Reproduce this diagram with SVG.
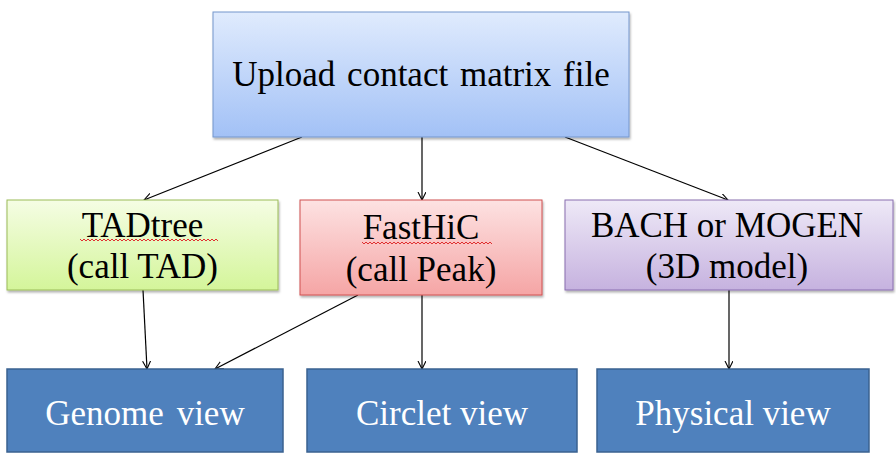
<svg xmlns="http://www.w3.org/2000/svg" width="896" height="458" viewBox="0 0 896 458">
  <defs>
    <linearGradient id="gBlue" x1="0" y1="0" x2="0" y2="1">
      <stop offset="0" stop-color="#e0ebfd"/>
      <stop offset="1" stop-color="#a2c1f6"/>
    </linearGradient>
    <linearGradient id="gGreen" x1="0" y1="0" x2="0" y2="1">
      <stop offset="0" stop-color="#f5fde4"/>
      <stop offset="1" stop-color="#d4f59a"/>
    </linearGradient>
    <linearGradient id="gRed" x1="0" y1="0" x2="0" y2="1">
      <stop offset="0" stop-color="#fde2e2"/>
      <stop offset="1" stop-color="#f5a5a5"/>
    </linearGradient>
    <linearGradient id="gPurple" x1="0" y1="0" x2="0" y2="1">
      <stop offset="0" stop-color="#eee9f7"/>
      <stop offset="1" stop-color="#c6b2df"/>
    </linearGradient>
    <filter id="sh" x="-5%" y="-5%" width="110%" height="115%">
      <feDropShadow dx="1" dy="2" stdDeviation="1.2" flood-color="#000" flood-opacity="0.3"/>
    </filter>
    <marker id="arr" markerUnits="userSpaceOnUse" markerWidth="12" markerHeight="10" refX="8" refY="4" orient="auto">
      <path d="M0,0 L8,4 L0,8" fill="none" stroke="#000" stroke-width="1.1"/>
    </marker>
  </defs>

  <g id="connectors" stroke="#000" stroke-width="1.2" fill="none" marker-end="url(#arr)">
    <line x1="302" y1="137" x2="144" y2="200"/>
    <line x1="422" y1="137" x2="422" y2="200"/>
    <line x1="565" y1="137" x2="728" y2="200"/>
    <line x1="143" y1="290" x2="147" y2="369"/>
    <line x1="358" y1="295" x2="215" y2="369"/>
    <line x1="422" y1="295" x2="422" y2="369"/>
    <line x1="729" y1="290" x2="729" y2="369"/>
  </g>

  <g id="upload">
    <rect x="213" y="12" width="416" height="125" fill="url(#gBlue)" stroke="#7496cc" stroke-width="1" filter="url(#sh)"/>
    <text x="421" y="86" font-size="35" text-anchor="middle" word-spacing="3" style="font-family:'Liberation Serif'">Upload contact matrix file</text>
  </g>

  <g id="tadtree">
    <rect x="7" y="200" width="271" height="90" fill="url(#gGreen)" stroke="#9bbb59" stroke-width="1" filter="url(#sh)"/>
    <text x="142.5" y="237" font-size="35" text-anchor="middle" style="font-family:'Liberation Serif'">TADtree</text>
    <text x="142.5" y="278" font-size="35" text-anchor="middle" style="font-family:'Liberation Serif'">(call TAD)</text>
    <path stroke="#e03030" stroke-width="1" fill="none" d="M80,239 l2,2 l2,-2 l2,2 l2,-2 l2,2 l2,-2 l2,2 l2,-2 l2,2 l2,-2 l2,2 l2,-2 l2,2 l2,-2 l2,2 l2,-2 l2,2 l2,-2 l2,2 l2,-2 l2,2 l2,-2 l2,2 l2,-2 l2,2 l2,-2 l2,2 l2,-2 l2,2 l2,-2 l2,2 l2,-2 l2,2 l2,-2 l2,2 l2,-2 l2,2 l2,-2 l2,2 l2,-2 l2,2 l2,-2 l2,2 l2,-2 l2,2 l2,-2 l2,2 l2,-2 l2,2 l2,-2 l2,2 l2,-2 l2,2 l2,-2 l2,2 l2,-2 l2,2 l2,-2 l2,2 l2,-2 l2,2 l2,-2 l2,2 l2,-2 l2,2 l2,-2 l2,2 l2,-2 l2,2"/>
  </g>

  <g id="fasthic">
    <rect x="300" y="200" width="242" height="95" fill="url(#gRed)" stroke="#d05050" stroke-width="1" filter="url(#sh)"/>
    <text x="421" y="239" font-size="35" text-anchor="middle" style="font-family:'Liberation Serif'">FastHiC</text>
    <text x="421" y="281" font-size="35" text-anchor="middle" style="font-family:'Liberation Serif'">(call Peak)</text>
    <path stroke="#e03030" stroke-width="1" fill="none" d="M362,242 l2,2 l2,-2 l2,2 l2,-2 l2,2 l2,-2 l2,2 l2,-2 l2,2 l2,-2 l2,2 l2,-2 l2,2 l2,-2 l2,2 l2,-2 l2,2 l2,-2 l2,2 l2,-2 l2,2 l2,-2 l2,2 l2,-2 l2,2 l2,-2 l2,2 l2,-2 l2,2 l2,-2 l2,2 l2,-2 l2,2 l2,-2 l2,2 l2,-2 l2,2 l2,-2 l2,2 l2,-2 l2,2 l2,-2 l2,2 l2,-2 l2,2 l2,-2 l2,2 l2,-2 l2,2 l2,-2 l2,2 l2,-2 l2,2 l2,-2 l2,2 l2,-2 l2,2 l2,-2 l2,2 l2,-2 l2,2 l2,-2 l2,2 l2,-2 l2,2"/>
  </g>

  <g id="bach">
    <rect x="565" y="200" width="328" height="90" fill="url(#gPurple)" stroke="#8a6fb0" stroke-width="1" filter="url(#sh)"/>
    <text x="727" y="237" font-size="35" text-anchor="middle" style="font-family:'Liberation Serif'">BACH or MOGEN</text>
    <text x="727" y="278" font-size="35" text-anchor="middle" style="font-family:'Liberation Serif'">(3D model)</text>
  </g>

  <g id="genome">
    <rect x="7" y="369" width="276" height="83" fill="#4f81bd" stroke="#3a6290" stroke-width="1.5"/>
    <text x="145" y="425" font-size="35" text-anchor="middle" fill="#fff" word-spacing="4" style="font-family:'Liberation Serif'">Genome view</text>
  </g>

  <g id="circlet">
    <rect x="307" y="369" width="270" height="83" fill="#4f81bd" stroke="#3a6290" stroke-width="1.5"/>
    <text x="442" y="425" font-size="35" text-anchor="middle" fill="#fff" style="font-family:'Liberation Serif'">Circlet view</text>
  </g>

  <g id="physical">
    <rect x="597" y="369" width="272" height="83" fill="#4f81bd" stroke="#3a6290" stroke-width="1.5"/>
    <text x="733" y="425" font-size="35" text-anchor="middle" fill="#fff" style="font-family:'Liberation Serif'">Physical view</text>
  </g>
</svg>
